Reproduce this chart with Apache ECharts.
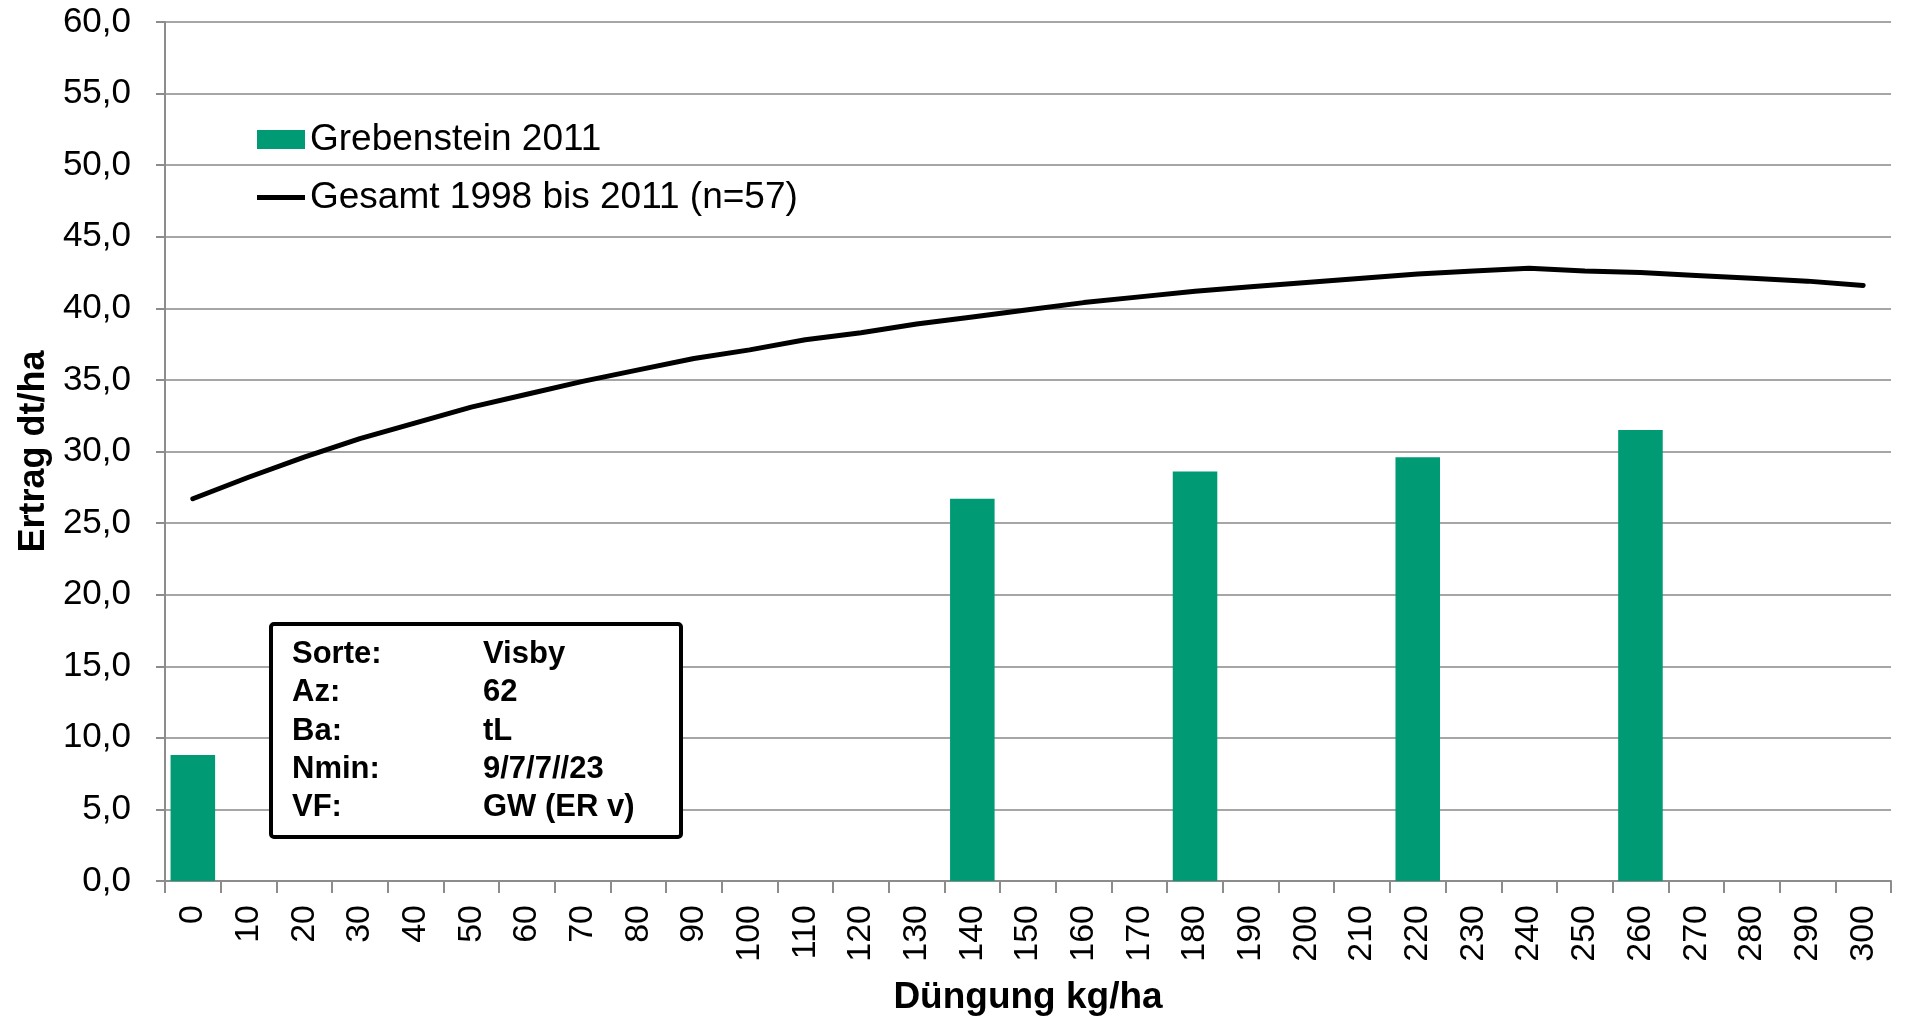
<!DOCTYPE html>
<html><head><meta charset="utf-8">
<script src="https://cdn.jsdelivr.net/npm/echarts@6/dist/echarts.min.js"></script>
<style>html,body{margin:0;padding:0;background:#fff}#c{width:1906px;height:1019px}</style>
</head><body><div id="c"></div>
<script>
const categories = ['0','10','20','30','40','50','60','70','80','90','100','110','120','130','140','150','160','170','180','190','200','210','220','230','240','250','260','270','280','290','300'];
const barValues = [8.8,null,null,null,null,null,null,null,null,null,null,null,null,null,26.7,null,null,null,28.6,null,null,null,29.6,null,null,null,31.5,null,null,null,null];
const lineValues = [26.7,28.2,29.6,30.9,32.0,33.1,34.0,34.9,35.7,36.5,37.1,37.8,38.3,38.9,39.4,39.9,40.4,40.8,41.2,41.5,41.8,42.1,42.4,42.6,42.8,42.6,42.5,42.3,42.1,41.9,41.6];
const barName = 'Grebenstein 2011';
const lineName = 'Gesamt 1998 bis 2011 (n=57)';
const infoLabels = ['Sorte:','Az:','Ba:','Nmin:','VF:'];
const infoValues = ['Visby','62','tL','9/7/7//23','GW (ER v)'];

const font = '"Liberation Sans", Arial, sans-serif';
const chart = echarts.init(document.getElementById('c'));
const graphics = [
  {type:'rect', left:269, top:622, shape:{width:410, height:213, r:3}, style:{fill:'#fff', stroke:'#000', lineWidth:4}, z:100}
];
infoLabels.forEach((l, i) => {
  graphics.push({type:'text', left: 292, top: 639 + i*38.3, z:101, style:{text:l, font:'bold 31px '+font, fill:'#000'}});
  graphics.push({type:'text', left: 483, top: 639 + i*38.3, z:101, style:{text:infoValues[i], font:'bold 31px '+font, fill:'#000'}});
});
chart.setOption({
  animation:false,
  backgroundColor:'#fff',
  grid:{left:165, right:15, top:22, bottom:138, outerBoundsMode:'none', containLabel:false},
  legend:{
    left:252, top:116, orient:'vertical', itemGap:21, itemWidth:48, itemHeight:19,
    textStyle:{fontFamily:font, fontSize:37, color:'#000'},
    data:[{name:barName, icon:'rect'},{name:lineName, icon:'path://M0,0 L50,0 L50,5 L0,5 Z'}]
  },
  xAxis:{
    type:'category', data:categories, boundaryGap:true,
    name:'Düngung kg/ha', nameLocation:'middle', nameGap:98,
    nameTextStyle:{fontFamily:font, fontSize:37, fontWeight:'bold', color:'#000'},
    axisLine:{lineStyle:{color:'#8c8c8c', width:2}},
    axisTick:{show:true, length:12, lineStyle:{color:'#8c8c8c', width:2}, interval:0},
    axisLabel:{rotate:90, interval:0, fontFamily:font, fontSize:34, color:'#000', margin:24}
  },
  yAxis:{
    type:'value', min:0, max:60, interval:5,
    name:'Ertrag dt/ha', nameLocation:'middle', nameGap:112, nameRotate:90,
    nameTextStyle:{fontFamily:font, fontSize:36, fontWeight:'bold', color:'#000'},
    axisLine:{show:true, lineStyle:{color:'#8c8c8c', width:2}},
    axisTick:{show:true, length:9, lineStyle:{color:'#8c8c8c', width:2}},
    splitLine:{lineStyle:{color:'#a6a6a6', width:2}},
    axisLabel:{fontFamily:font, fontSize:35, color:'#000', margin:34,
      formatter:v=>v.toFixed(1).replace('.',',')}
  },
  series:[
    {name:barName, type:'bar', data:barValues, barWidth:'80%', itemStyle:{color:'#009B74'}},
    {name:lineName, type:'line', data:lineValues, symbol:'none', lineStyle:{color:'#000', width:5, cap:'round'}, itemStyle:{color:'#000'}}
  ],
  graphic:graphics
});
</script></body></html>
